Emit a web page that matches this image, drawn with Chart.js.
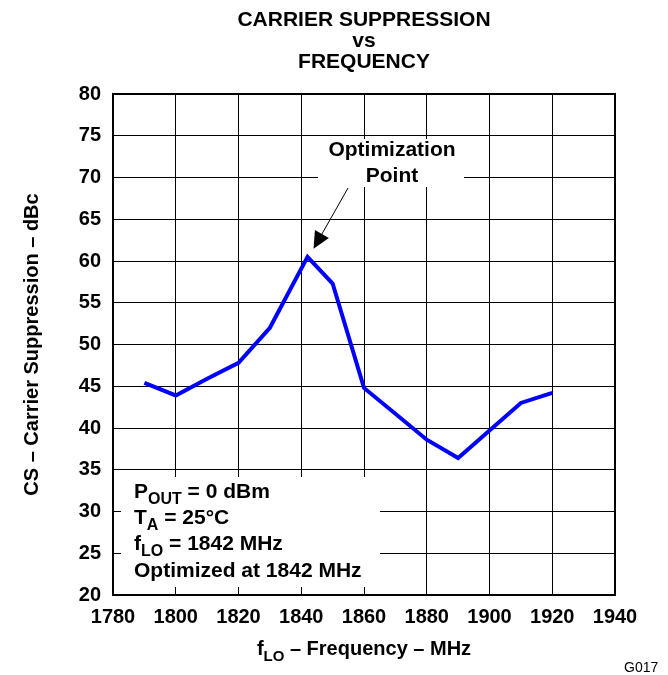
<!DOCTYPE html>
<html>
<head>
<meta charset="utf-8">
<title>Carrier Suppression vs Frequency</title>
<script src="https://cdn.jsdelivr.net/npm/chart.js@4.4.1/dist/chart.umd.min.js"></script>
<style>
  html, body { margin: 0; padding: 0; background: #fff; }
  #chart { display: block; }
</style>
</head>
<body>
<canvas id="chart" width="668" height="675"></canvas>
<script>
// Données
const freqMHz = [1790, 1800, 1810, 1820, 1830, 1842, 1850, 1860, 1870, 1880, 1890, 1900, 1910, 1920];
const carrierSuppression = [45.4, 43.9, 45.9, 47.8, 52.0, 60.5, 57.3, 44.8, 41.7, 38.6, 36.4, 39.7, 43.0, 44.2];

const titleLines = ['CARRIER SUPPRESSION', 'vs', 'FREQUENCY'];
const annotationLines = ['Optimization', 'Point'];
const conditionLines = [
  [['P', ''], ['OUT', 'sub'], [' = 0 dBm', '']],
  [['T', ''], ['A', 'sub'], [' = 25°C', '']],
  [['f', ''], ['LO', 'sub'], [' = 1842 MHz', '']],
  [['Optimized at 1842 MHz', '']]
];
const xTitleParts = [['f', ''], ['LO', 'sub'], [' – Frequency – MHz', '']];
const yTitle = 'CS – Carrier Suppression – dBc';
const optimumMHz = 1842;

const FONT = "'Liberation Sans', Arial, Helvetica, sans-serif";

// Texte avec indices (sub)
function drawRich(ctx, parts, x, y, size, align) {
  const sub = Math.round(size * 0.75);
  const fonts = parts.map(p => 'bold ' + (p[1] === 'sub' ? sub : size) + 'px ' + FONT);
  let total = 0;
  parts.forEach((p, i) => { ctx.font = fonts[i]; total += ctx.measureText(p[0]).width; });
  let cx = align === 'center' ? x - total / 2 : x;
  ctx.textAlign = 'left';
  ctx.textBaseline = 'alphabetic';
  parts.forEach((p, i) => {
    ctx.font = fonts[i];
    ctx.fillText(p[0], cx, p[1] === 'sub' ? y + size * 0.28 : y);
    cx += ctx.measureText(p[0]).width;
  });
}

const decorations = {
  id: 'decorations',
  beforeDatasetsDraw(chart) {
    const { ctx, scales: { x, y } } = chart;
    ctx.save();
    ctx.fillStyle = '#fff';
    // cache sous l'annotation
    ctx.fillRect(318, 139, 146, 48);
    // cache sous les conditions
    ctx.fillRect(x.left + 8, 477, 259, y.bottom - 8 - 477);
    ctx.restore();
  },
  afterDraw(chart) {
    const { ctx, chartArea: a, scales: { x, y } } = chart;
    ctx.save();
    ctx.fillStyle = '#000';
    ctx.strokeStyle = '#000';

    // cadre
    ctx.lineWidth = 2;
    ctx.strokeRect(a.left, a.top, a.right - a.left, a.bottom - a.top);

    // titre
    ctx.textAlign = 'center';
    ctx.textBaseline = 'alphabetic';
    ctx.font = 'bold 21px ' + FONT;
    const mid = (a.left + a.right) / 2;
    [26, 47, 68].forEach((b, i) => ctx.fillText(titleLines[i], mid, b));

    // annotation + flèche
    ctx.fillText(annotationLines[0], 392, 156);
    ctx.fillText(annotationLines[1], 392, 182);
    const tipX = x.getPixelForValue(optimumMHz) + 6;
    const tipY = y.getPixelForValue(carrierSuppression[freqMHz.indexOf(optimumMHz)]) - 8;
    const fromX = 348, fromY = 188;
    const ang = Math.atan2(tipY - fromY, tipX - fromX);
    ctx.lineWidth = 1;
    ctx.beginPath();
    ctx.moveTo(fromX, fromY);
    ctx.lineTo(tipX - 14 * Math.cos(ang), tipY - 14 * Math.sin(ang));
    ctx.stroke();
    ctx.beginPath();
    ctx.moveTo(tipX, tipY);
    ctx.lineTo(tipX - 17 * Math.cos(ang) + 8 * Math.sin(ang), tipY - 17 * Math.sin(ang) - 8 * Math.cos(ang));
    ctx.lineTo(tipX - 17 * Math.cos(ang) - 8 * Math.sin(ang), tipY - 17 * Math.sin(ang) + 8 * Math.cos(ang));
    ctx.closePath();
    ctx.fill();

    // conditions de mesure
    conditionLines.forEach((line, i) => drawRich(ctx, line, 134, 498 + i * 26.2, 21, 'left'));

    // titres des axes
    drawRich(ctx, xTitleParts, mid, 655, 20, 'center');
    ctx.save();
    ctx.translate(38, (a.top + a.bottom) / 2);
    ctx.rotate(-Math.PI / 2);
    ctx.textAlign = 'center';
    ctx.font = 'bold 20px ' + FONT;
    ctx.fillText(yTitle, 0, 0);
    ctx.restore();

    // référence figure
    ctx.font = '14px ' + FONT;
    ctx.textAlign = 'left';
    ctx.fillText('G017', 624, 672);
    ctx.restore();
  }
};

new Chart(document.getElementById('chart'), {
  type: 'line',
  data: {
    datasets: [{
      data: freqMHz.map((f, i) => ({ x: f, y: carrierSuppression[i] })),
      borderColor: '#0000ff',
      borderWidth: 4,
      pointRadius: 0,
      tension: 0,
      fill: false
    }]
  },
  options: {
    responsive: false,
    animation: false,
    devicePixelRatio: 1,
    layout: { padding: { left: 0, top: 94, right: 53, bottom: 0 } },
    plugins: { legend: { display: false }, tooltip: { enabled: false }, title: { display: false } },
    scales: {
      x: {
        type: 'linear',
        min: 1780,
        max: 1940,
        afterFit: s => { s.height = 80; },
        ticks: { stepSize: 20, color: '#000', padding: 10, font: { family: FONT, size: 20, weight: 'bold' }, maxRotation: 0, callback: v => String(v) },
        grid: { color: '#000', lineWidth: 1, drawTicks: false },
        border: { color: '#000', width: 2 }
      },
      y: {
        min: 20,
        max: 80,
        afterFit: s => { s.width = 113; },
        ticks: { stepSize: 5, color: '#000', padding: 12, font: { family: FONT, size: 20, weight: 'bold' }, callback: v => String(v) },
        grid: { color: '#000', lineWidth: 1, drawTicks: false },
        border: { color: '#000', width: 2 }
      }
    }
  },
  plugins: [decorations]
});
</script>
</body>
</html>
